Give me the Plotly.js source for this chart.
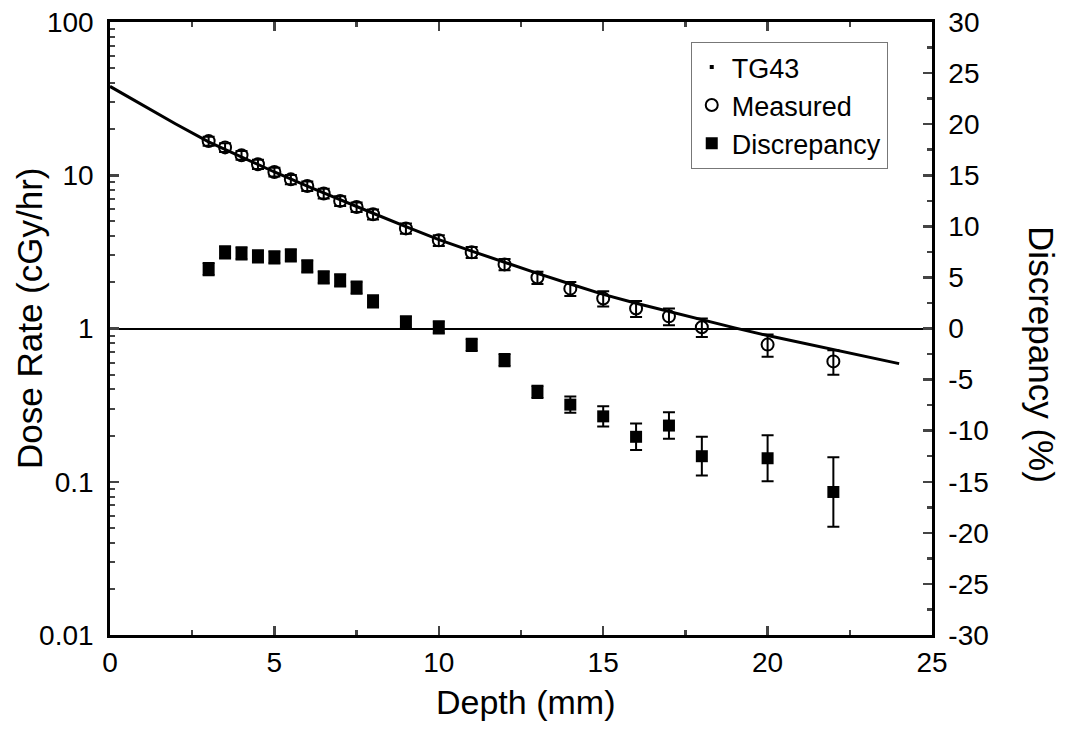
<!DOCTYPE html>
<html>
<head>
<meta charset="utf-8">
<script src="https://cdn.plot.ly/plotly-3.0.1.min.js"></script>
<style>html,body{margin:0;padding:0;background:#fff;}#chart{width:1074px;height:739px;}</style>
</head>
<body>
<div id="chart"></div>
<script>
// TG43 calculated dose rate (cGy/hr)
const tg43Depth = [0,1,2,3,4,5,6,7,8,9,10,11,12,13,14,15,16,17,18,19,20,21,22,23,24];
const tg43Dose  = [38.0,28.5,21.6,16.5,13.1,10.5,8.5,6.9,5.65,4.62,3.80,3.20,2.70,2.29,1.95,1.67,1.46,1.29,1.135,1.01,0.90,0.81,0.725,0.653,0.59];

// Measured dose rate (cGy/hr)
const measDepth = [3,3.5,4,4.5,5,5.5,6,6.5,7,7.5,8,9,10,11,12,13,14,15,16,17,18,20,22];
const measDose  = [16.7,15.2,13.5,11.8,10.5,9.4,8.5,7.6,6.8,6.2,5.56,4.5,3.76,3.14,2.62,2.15,1.82,1.57,1.35,1.20,1.02,0.785,0.61];
const measErr   = [1.1,1.0,0.9,0.8,0.7,0.65,0.6,0.55,0.5,0.45,0.42,0.35,0.3,0.26,0.22,0.2,0.19,0.18,0.16,0.15,0.14,0.13,0.11];

// Discrepancy (%)
const discDepth = [3,3.5,4,4.5,5,5.5,6,6.5,7,7.5,8,9,10,11,12,13,14,15,16,17,18,20,22];
const discVal   = [5.8,7.45,7.35,7.06,6.96,7.16,6.08,5.0,4.7,4.0,2.65,0.6,0.1,-1.6,-3.1,-6.2,-7.45,-8.6,-10.6,-9.5,-12.5,-12.7,-16.0];
const discErr   = [0.6,0.6,0.6,0.6,0.6,0.6,0.6,0.6,0.6,0.6,0.6,0.6,0.6,0.6,0.6,0.6,0.8,1.0,1.3,1.3,1.9,2.25,3.4];

// Axis tick labels
const xTicks = [0,5,10,15,20,25];
const yTicks = [0.01,0.1,1,10,100];
const yTickText = ['0.01 ','0.1 ','1 ','10 ','100 '];
const yMinorTicks = [0.02,0.03,0.04,0.05,0.06,0.07,0.08,0.09,
                     0.2,0.3,0.4,0.5,0.6,0.7,0.8,0.9,
                     2,3,4,5,6,7,8,9,
                     20,30,40,50,60,70,80,90];
const y2Ticks = [-30,-25,-20,-15,-10,-5,0,5,10,15,20,25,30];
const y2TickText = [' -30',' -25',' -20',' -15',' -10',' -5',' 0',' 5',' 10',' 15',' 20',' 25',' 30'];

const FONT = 'Liberation Sans, Arial, sans-serif';
const TICKSIZE = 28;
const TITLESIZE = 35;

const traces = [
  {x: tg43Depth, y: tg43Dose, mode: 'lines', line: {color: '#000', width: 3}, showlegend: false, hoverinfo: 'skip'},
  {x: [null], y: [null], mode: 'markers', name: 'TG43', marker: {symbol: 'square', size: 4, color: '#000'}},
  {x: measDepth, y: measDose, mode: 'markers', name: 'Measured',
   marker: {symbol: 'circle-open', size: 12, color: '#000', line: {width: 2, color: '#000'}},
   error_y: {type: 'data', array: measErr, visible: true, color: '#000', thickness: 2, width: 6}},
  {x: discDepth, y: discVal, yaxis: 'y2', mode: 'markers', name: 'Discrepancy',
   marker: {symbol: 'square', size: 12, color: '#000'},
   error_y: {type: 'data', array: discErr, visible: true, color: '#000', thickness: 2, width: 6}}
];

const layout = {
  width: 1074, height: 739,
  margin: {l: 110, r: 142, t: 22, b: 104},
  paper_bgcolor: '#fff', plot_bgcolor: '#fff',
  font: {family: FONT, color: '#000', size: TICKSIZE},
  showlegend: true,
  legend: {x: 0.7065, y: 0.9675, xanchor: 'left', yanchor: 'top', bgcolor: '#fff',
           bordercolor: '#777', borderwidth: 1, font: {family: FONT, size: 27, color: '#000'},
           tracegroupgap: 0, itemsizing: 'trace', itemwidth: 30},
  xaxis: {range: [0, 25], tickvals: xTicks, ticks: 'inside', ticklen: 9, tickwidth: 2.5,
          showline: true, linewidth: 3, linecolor: '#000', mirror: 'ticks', showgrid: false, zeroline: false,
          minor: {dtick: 2.5, ticks: 'inside', ticklen: 5, tickwidth: 2.5, showgrid: false},
          tickfont: {size: TICKSIZE, family: FONT}},
  yaxis: {type: 'log', range: [-2, 2], tickvals: yTicks, ticktext: yTickText, ticks: 'inside', ticklen: 9, tickwidth: 2.5,
          showline: true, linewidth: 3, linecolor: '#000', showgrid: false, zeroline: false,
          minor: {tickvals: yMinorTicks, ticks: 'inside', ticklen: 5, tickwidth: 2, showgrid: false},
          tickfont: {size: TICKSIZE, family: FONT}},
  yaxis2: {overlaying: 'y', side: 'right', range: [-30, 30], tickvals: y2Ticks, ticktext: y2TickText,
           ticks: 'inside', ticklen: 9, tickwidth: 2.5,
           showline: true, linewidth: 3, linecolor: '#000', showgrid: false,
           zeroline: true, zerolinecolor: '#000', zerolinewidth: 2,
           minor: {dtick: 2.5, ticks: 'inside', ticklen: 5, tickwidth: 2.5, showgrid: false},
           tickfont: {size: TICKSIZE, family: FONT}},
  annotations: [
    {text: 'Depth (mm)', xref: 'paper', yref: 'paper', x: 0.505, y: -0.110,
     xanchor: 'center', yanchor: 'middle', showarrow: false, font: {size: 34, family: FONT, color: '#000'}},
    {text: 'Dose Rate (cGy/hr)', textangle: -90, xref: 'paper', yref: 'paper', x: -0.0973, y: 0.5155,
     xanchor: 'center', yanchor: 'middle', showarrow: false, font: {size: TITLESIZE, family: FONT, color: '#000'}},
    {text: 'Discrepancy (%)', textangle: 90, xref: 'paper', yref: 'paper', x: 1.134, y: 0.458,
     xanchor: 'center', yanchor: 'middle', showarrow: false, font: {size: TITLESIZE, family: FONT, color: '#000'}}
  ]
};

Plotly.newPlot('chart', traces, layout, {displayModeBar: false, staticPlot: true});
</script>
</body>
</html>
